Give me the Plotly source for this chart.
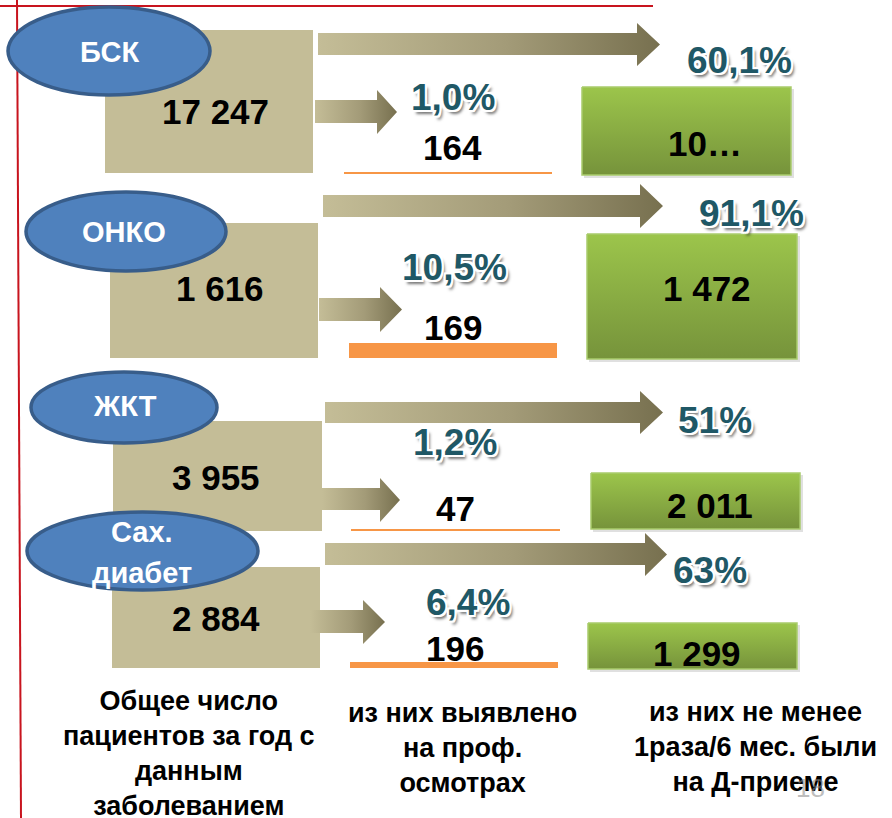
import plotly.graph_objects as go

# ---------------- data ----------------
categories = ["БСК", "ОНКО", "ЖКТ", "Сах.<br>диабет"]
total_patients = [17247, 1616, 3955, 2884]
detected_prof = [164, 169, 47, 196]
detected_pct = [1.0, 10.5, 1.2, 6.4]
dispensary_labels = ["10…", "1 472", "2 011", "1 299"]
dispensary_pct = [60.1, 91.1, 51, 63]
column_titles = [
    "Общее число<br>пациентов за год с<br>данным<br>заболеванием",
    "из них выявлено<br>на проф.<br>осмотрах",
    "из них не менее<br>1раза/6 мес. были<br>на Д-приеме",
]
page_number = "18"

# ---------------- layout geometry (pixels) ----------------
rows = [
    dict(ell=(8, 210, 7, 95), lab=(109, [52]), box=(105, 313, 30, 173), val=(215, 111),
         big=(318, 637, 33, 55, 23, 66, 660), pct2=(739, 60),
         small=(315, 377, 100, 123, 90, 134, 397), pct1=(453, 97), det=(452, 147),
         bar=(344, 552, 172, 174), green=(582, 791, 87, 175), disp=(705, 143)),
    dict(ell=(26, 226, 192, 271), lab=(124, [232]), box=(110, 318, 223, 358), val=(220, 288),
         big=(323, 640, 195, 217, 184, 228, 663), pct2=(751, 213),
         small=(319, 380, 298, 321, 287, 332, 402), pct1=(454, 267), det=(453, 327),
         bar=(349, 557, 343, 358), green=(587, 797, 234, 359), disp=(707, 288)),
    dict(ell=(31, 217, 372, 443), lab=(125, [406]), box=(113, 322, 421, 531), val=(216, 477),
         big=(325, 640, 402, 423, 391, 434, 663), pct2=(715, 420),
         small=(322, 380, 488, 510, 478, 522, 400), pct1=(455, 442), det=(455, 508),
         bar=(351, 560, 529, 531), green=(591, 800, 473, 529), disp=(710, 505)),
    dict(ell=(27, 258, 512, 590), lab=(142, [532, 573]), box=(112, 320, 567, 668), val=(216, 618),
         big=(325, 645, 543, 565, 533, 576, 667), pct2=(710, 570),
         small=(310, 363, 610, 633, 600, 644, 385), pct1=(468, 602), det=(455, 648),
         bar=(350, 558, 662, 668), green=(588, 797, 623, 669), disp=(697, 653)),
]
title_pos = [(189, 753), (462, 748), (755, 747)]

W, H = 892, 818
FONT = "Liberation Sans, Arial, sans-serif"
TAN = "#c4bd97"
ARROW_SCALE = [[0, "#c4bd97"], [0.55, "#a39b78"], [1, "#77704f"]]
GREEN_SCALE = [[0, "#9cc54b"], [1, "#76933b"]]
TEAL = "#1f5866"
PCT_SHADOW = ("-2px -2px 0 #fff, 2px -2px 0 #fff, -2px 2px 0 #fff, "
              "2px 2px 0 #fff, 0 2px 0 #fff, 2px 0 0 #fff, 0 -2px 0 #fff, -2px 0 0 #fff, "
              "3px 4px 3px rgba(0,0,0,0.55)")


def fmt_int(n):
    return "{:,}".format(n).replace(",", " ")


def fmt_pct(v):
    if isinstance(v, int):
        return f"{v}%"
    return f"{v:.1f}".replace(".", ",") + "%"


fig = go.Figure()
shapes = []
annotations = []


def arrow_trace(x0, xs1, ys0, ys1, yh0, yh1, xtip):
    ym = (yh0 + yh1) / 2
    xs = [x0, xs1, xs1, xtip, xs1, xs1, x0, x0]
    ys = [ys0, ys0, yh0, ym, yh1, ys1, ys1, ys0]
    return go.Scatter(
        x=xs, y=ys, mode="lines", fill="toself", line=dict(width=0, color="rgba(0,0,0,0)"),
        fillgradient=dict(type="horizontal", colorscale=ARROW_SCALE, start=x0, stop=xtip),
        hoverinfo="skip", showlegend=False)


# red frame lines
shapes.append(dict(type="line", x0=0, x1=653, y0=6, y1=6, line=dict(color="#c8141e", width=2),
                   xref="x", yref="y", layer="below"))
shapes.append(dict(type="line", x0=17, x1=21, y0=0, y1=H, line=dict(color="#c8141e", width=2),
                   xref="x", yref="y", layer="below"))

for i, g in enumerate(rows):
    # tan total box
    bx0, bx1, by0, by1 = g["box"]
    shapes.append(dict(type="rect", x0=bx0, x1=bx1, y0=by0, y1=by1, fillcolor=TAN,
                       line=dict(width=0), xref="x", yref="y", layer="below"))
    # orange underline / bar
    ox0, ox1, oy0, oy1 = g["bar"]
    shapes.append(dict(type="rect", x0=ox0, x1=ox1, y0=oy0, y1=oy1, fillcolor="#f79646",
                       line=dict(width=0), xref="x", yref="y", layer="below"))
    # green box shadow
    gx0, gx1, gy0, gy1 = g["green"]
    shapes.append(dict(type="rect", x0=gx0 + 2, x1=gx1 + 3, y0=gy0 + 2, y1=gy1 + 3,
                       fillcolor="rgba(0,0,0,0.12)", line=dict(width=0),
                       xref="x", yref="y", layer="below"))
    # arrows
    fig.add_trace(arrow_trace(*g["big"]))
    fig.add_trace(arrow_trace(*g["small"]))
    # green box with vertical gradient
    fig.add_trace(go.Scatter(
        x=[gx0, gx1, gx1, gx0, gx0], y=[gy0, gy0, gy1, gy1, gy0], mode="lines",
        fill="toself", line=dict(width=1.5, color="#a9cb6c"),
        fillgradient=dict(type="vertical", colorscale=GREEN_SCALE, start=gy0, stop=gy1),
        hoverinfo="skip", showlegend=False))
    # ellipse (category badge)
    ex0, ex1, ey0, ey1 = g["ell"]
    shapes.append(dict(type="circle", x0=ex0, x1=ex1, y0=ey0, y1=ey1, fillcolor="#4f81bd",
                       line=dict(color="#385d8a", width=3.5), xref="x", yref="y", layer="above"))
    # category text
    lx, lys = g["lab"]
    for line_txt, ly in zip(categories[i].split("<br>"), lys):
        annotations.append(dict(x=lx, y=ly, text=line_txt, showarrow=False,
                                font=dict(family=FONT, size=29, color="white", weight="bold"),
                                xanchor="center", yanchor="middle"))
    # values
    vx, vy = g["val"]
    annotations.append(dict(x=vx, y=vy, text=fmt_int(total_patients[i]), showarrow=False,
                            font=dict(family=FONT, size=35, color="black", weight="bold"),
                            xanchor="center", yanchor="middle"))
    dx, dy = g["det"]
    annotations.append(dict(x=dx, y=dy, text=fmt_int(detected_prof[i]), showarrow=False,
                            font=dict(family=FONT, size=35, color="black", weight="bold"),
                            xanchor="center", yanchor="middle"))
    px, py = g["disp"]
    annotations.append(dict(x=px, y=py, text=dispensary_labels[i], showarrow=False,
                            font=dict(family=FONT, size=35, color="black", weight="bold"),
                            xanchor="center", yanchor="middle"))
    # percentages
    p1x, p1y = g["pct1"]
    annotations.append(dict(x=p1x, y=p1y, text=fmt_pct(detected_pct[i]), showarrow=False,
                            font=dict(family=FONT, size=37, color=TEAL, weight="bold",
                                      shadow=PCT_SHADOW),
                            xanchor="center", yanchor="middle"))
    p2x, p2y = g["pct2"]
    annotations.append(dict(x=p2x, y=p2y, text=fmt_pct(dispensary_pct[i]), showarrow=False,
                            font=dict(family=FONT, size=37, color=TEAL, weight="bold",
                                      shadow=PCT_SHADOW),
                            xanchor="center", yanchor="middle"))

# column titles
for txt, (tx, ty) in zip(column_titles, title_pos):
    annotations.append(dict(x=tx, y=ty, text=txt, showarrow=False, align="center",
                            font=dict(family=FONT, size=27, color="black", weight="bold"),
                            xanchor="center", yanchor="middle"))

# page number
annotations.append(dict(x=810, y=788, text=page_number, showarrow=False, opacity=0.55,
                        font=dict(family=FONT, size=26, color="#8a8a8a"),
                        xanchor="center", yanchor="middle"))

fig.update_layout(
    width=W, height=H, autosize=False,
    margin=dict(l=0, r=0, t=0, b=0, pad=0),
    paper_bgcolor="white", plot_bgcolor="white",
    xaxis=dict(range=[0, W], visible=False, fixedrange=True),
    yaxis=dict(range=[H, 0], visible=False, fixedrange=True),
    shapes=shapes, annotations=annotations, showlegend=False,
)

fig.write_html("out.html", config={"displayModeBar": False},
               post_script="document.body.style.margin='0';document.body.style.overflow='hidden';")
